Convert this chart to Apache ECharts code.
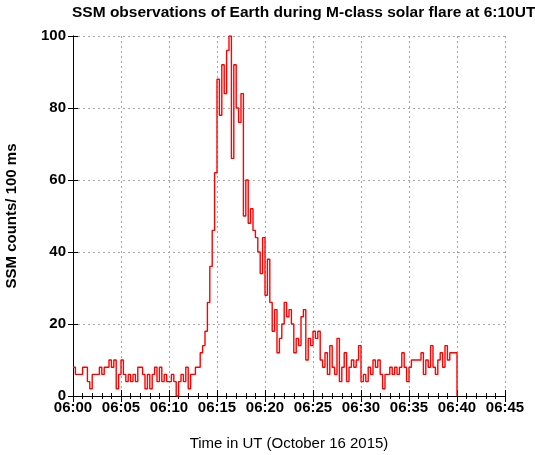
<!DOCTYPE html>
<html>
<head>
<meta charset="utf-8">
<script src="https://cdn.jsdelivr.net/npm/echarts@6/dist/echarts.min.js"></script>
<style>
  html, body { margin: 0; padding: 0; background: #fff; }
  #chart-container { width: 535px; height: 455px; }
</style>
</head>
<body>
<div id="chart-container"></div>
<script>
// SSM counts per 100 ms, one value every 15 s starting at 06:00
var stepMinutes = 0.25;
var quietBefore = [
  8, 6, 6, 6,  8, 8, 4, 2,  6, 6, 6, 8,  6, 8, 8, 10,
  8, 10, 2, 6,  10, 6, 4, 6,  4, 6, 4, 8,  8, 6, 2, 6,
  2, 6, 8, 4,  8, 4, 6, 4,  4, 6, 4, 0,  4, 6, 4, 8,
  2, 6, 6, 8
];
var rise = [8, 12, 14, 18,  26, 36, 46, 62];
var peak = [88, 78, 92, 84,  96, 100, 66, 92,  80, 76, 84, 50];
var decay = [
  60, 48, 52, 46,  44, 40, 34, 44,  28, 38, 26, 18,
  24, 12, 16, 20,  26, 22, 24, 20,  12, 16, 14, 22,
  24, 10, 16, 14,  18, 16, 18, 10
];
var tail = [
  8, 12, 6, 14,  8, 6, 16, 4,  8, 12, 4, 8,  10, 8, 10, 14,
  4, 6, 4, 8,  6, 10, 8, 10,  6, 2, 6, 6,  8, 6, 8, 6,
  8, 12, 8, 4,  8, 10, 10, 10,  10, 12, 6, 10,  8, 14, 8, 6,
  10, 12, 8, 14,  10, 12, 12, 12
];
var endMinute = 40;
var xTicks = [0, 5, 10, 15, 20, 25, 30, 35, 40, 45];
var yTicks = [0, 20, 40, 60, 80, 100];

var counts = quietBefore.concat(rise, peak, decay, tail);
var seriesData = counts.map(function (v, i) { return [i * stepMinutes, v]; });
seriesData.push([endMinute, 0]);

var dom = document.getElementById("chart-container");
var myChart = echarts.init(dom, null, { renderer: "canvas" });

var font = "'Liberation Sans', Arial, sans-serif";
var gridLine = { show: true, lineStyle: { color: "#a8a8a8", type: [2, 3], width: 1 } };

var option = {
  animation: false,
  backgroundColor: "#fff",
  title: {
    text: "SSM observations of Earth during M-class solar flare at 6:10UT",
    left: 67,
    top: 0,
    textStyle: { fontFamily: font, fontSize: 15.5, fontWeight: "bold", color: "#000" },
  },
  grid: { left: 73, right: 30, top: 36, bottom: 59, containLabel: false, outerBoundsMode: "none" },
  xAxis: [
    {
      type: "value",
      position: "bottom",
      min: xTicks[0],
      max: xTicks[xTicks.length - 1],
      interval: 5,
      name: "Time in UT (October 16 2015)",
      nameLocation: "middle",
      nameGap: 40,
      nameTextStyle: { fontFamily: font, fontSize: 15, color: "#000" },
      axisLine: { lineStyle: { color: "#000", width: 1 } },
      axisTick: { inside: true, length: 6, lineStyle: { color: "#000" } },
      minorTick: { show: true, splitNumber: 5, length: 3, lineStyle: { color: "#000" } },
      splitLine: gridLine,
      axisLabel: {
        fontFamily: font, fontSize: 15, fontWeight: "bold", color: "#000", margin: 4,
        formatter: function (v) { return "06:" + (v < 10 ? "0" : "") + v; },
      },
    },
    {
      type: "value",
      position: "top",
      min: xTicks[0],
      max: xTicks[xTicks.length - 1],
      interval: 5,
      axisLine: { lineStyle: { color: "#000", width: 1 } },
      axisTick: { inside: true, length: 6, lineStyle: { color: "#000" } },
      minorTick: { show: true, splitNumber: 5, length: 3, lineStyle: { color: "#000" } },
      splitLine: { show: false },
      axisLabel: { show: false },
    },
  ],
  yAxis: [
    {
      type: "value",
      position: "left",
      min: yTicks[0],
      max: yTicks[yTicks.length - 1],
      interval: 20,
      name: "SSM counts/ 100 ms",
      nameLocation: "middle",
      nameGap: 54,
      nameTextStyle: { fontFamily: font, fontSize: 15, fontWeight: "bold", color: "#000" },
      axisLine: { show: true, lineStyle: { color: "#000", width: 1 } },
      axisTick: { show: true, inside: true, length: 5, lineStyle: { color: "#000" } },
      splitLine: gridLine,
      axisLabel: { fontFamily: font, fontSize: 15, fontWeight: "bold", color: "#000", margin: 7 },
    },
    {
      type: "value",
      position: "right",
      min: yTicks[0],
      max: yTicks[yTicks.length - 1],
      interval: 20,
      axisLine: { show: true, lineStyle: { color: "#000", width: 1 } },
      axisTick: { show: true, inside: true, length: 5, lineStyle: { color: "#000" } },
      splitLine: { show: false },
      axisLabel: { show: false },
    },
  ],
  series: [
    {
      type: "line",
      step: "end",
      data: seriesData,
      showSymbol: false,
      lineStyle: { color: "#ff0000", width: 1.4 },
      itemStyle: { color: "#ff0000" },
    },
  ],
};

myChart.setOption(option);
</script>
</body>
</html>
